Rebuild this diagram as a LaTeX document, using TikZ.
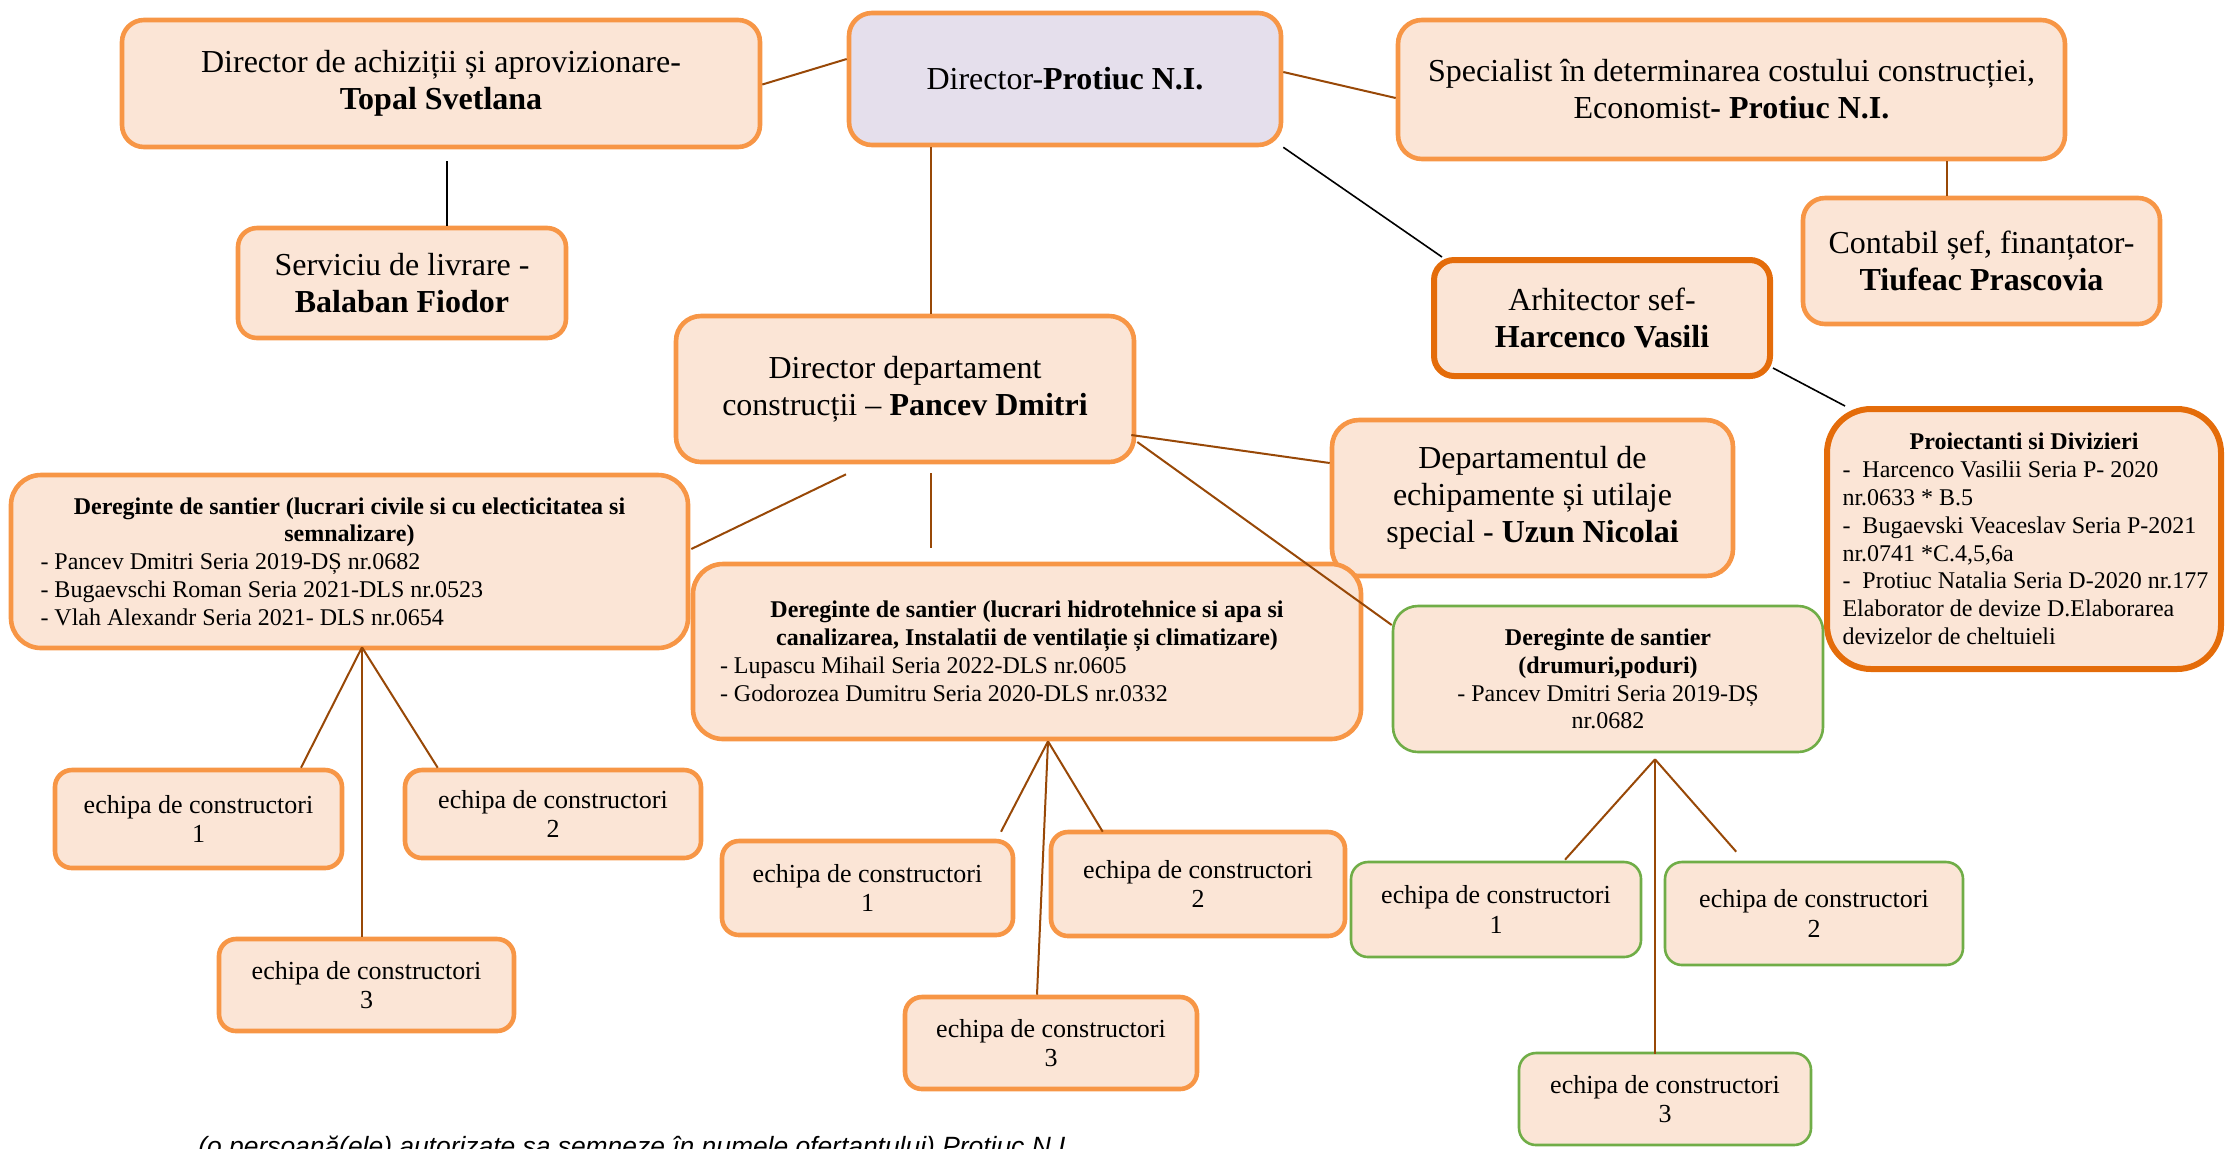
\documentclass[tikz,border=0pt]{standalone}
\usepackage{fontspec}
\setmainfont{Liberation Serif}
\newfontfamily\footfont{Liberation Sans}
\usetikzlibrary{calc}
\setlength{\parindent}{0pt}
\definecolor{boxfill}{HTML}{FBE5D6}
\definecolor{boxline}{HTML}{F79646}
\definecolor{darkline}{HTML}{E46C0A}
\definecolor{greenline}{HTML}{70AD47}
\definecolor{dirfill}{HTML}{E5DFEC}
\definecolor{connbrown}{HTML}{984807}
\newcommand\bigtxt{\fontsize{16}{18.5}\selectfont}
\newcommand\smalltxt{\fontsize{12}{13.9}\selectfont}
\newcommand\teamtxt{\fontsize{13}{14.6}\selectfont}
\begin{document}
\begin{tikzpicture}[x=0.5pt,y=-0.5pt,
  box/.style={draw=boxline, fill=boxfill, line width=2.3pt, inner sep=0pt, align=center, font=\bigtxt},
  darkbox/.style={box, draw=darkline, line width=3pt},
  greenbox/.style={box, draw=greenline, line width=1.3pt},
  smallbox/.style={box, font=\smalltxt},
  team/.style={box, font=\teamtxt, rounded corners=8.5pt},
  gteam/.style={greenbox, font=\teamtxt, rounded corners=8.5pt},
  brn/.style={draw=connbrown, line width=1pt},
  blk/.style={draw=black, line width=0.8pt}]
\useasboundingbox (0,0) rectangle (2225,1148);

% top row
\node[box, minimum width=319pt, minimum height=63.5pt, rounded corners=11pt] (ach) at (441,83.5)
  {Director de achiziții și aprovizionare-\\\textbf{Topal Svetlana}};
\node[box, fill=dirfill, minimum width=216pt, minimum height=66pt, rounded corners=11.5pt] (dir) at (1065,79)
  {Director-\textbf{Protiuc N.I.}};
\node[box, minimum width=333.5pt, minimum height=69.5pt, rounded corners=12pt] (spec) at (1731.5,89.5)
  {Specialist în determinarea costului construcției,\\Economist\textbf{- Protiuc N.I.}};
\node[box, minimum width=178.5pt, minimum height=63pt, rounded corners=11pt] (cont) at (1981.5,261)
  {Contabil șef, finanțator-\\\textbf{Tiufeac Prascovia}};
\node[darkbox, minimum width=168pt, minimum height=58pt, rounded corners=10pt] (arh) at (1602,318)
  {Arhitector sef-\\\textbf{Harcenco Vasili}};
\node[box, minimum width=164pt, minimum height=55pt, rounded corners=9.5pt] (serv) at (402,283)
  {Serviciu de livrare -\\\textbf{Balaban Fiodor}};
\node[box, minimum width=229pt, minimum height=73pt, rounded corners=12.5pt] (dd) at (905,389)
  {Director departament\\construcții – \textbf{Pancev Dmitri}};
\node[box, minimum width=200.5pt, minimum height=78pt, rounded corners=13.5pt] (dep) at (1532.5,498)
  {Departamentul de\\echipamente și utilaje\\special - \textbf{Uzun Nicolai}};

\node[darkbox, font=\smalltxt, minimum width=197pt, minimum height=130pt, rounded corners=22pt, text width=181.5pt, align=none] (proi) at (2024,539)
  {\centering\textbf{Proiectanti si Divizieri}\par\raggedright
   \mbox{- \ Harcenco Vasilii Seria P- 2020}\\
   \mbox{nr.0633 * B.5}\\
   \mbox{- \ Bugaevski Veaceslav Seria P-2021}\\
   \mbox{nr.0741 *C.4,5,6a}\\
   \mbox{- \ Protiuc Natalia Seria D-2020 nr.177}\\
   \mbox{Elaborator de devize D.Elaborarea}\\
   \mbox{devizelor de cheltuieli}\par};

% site managers
\node[smallbox, minimum width=338.5pt, minimum height=86.5pt, rounded corners=15pt, text width=309pt, align=none] (dl) at (349.5,561.5)
  {\centering\textbf{Dereginte de santier (lucrari civile si cu electicitatea si}\\
   \textbf{semnalizare)}\par\raggedright
   \mbox{- Pancev Dmitri Seria 2019-DȘ nr.0682}\\
   \mbox{- Bugaevschi Roman Seria 2021-DLS nr.0523}\\
   \mbox{- Vlah Alexandr Seria 2021- DLS nr.0654}\par};
\node[smallbox, minimum width=334pt, minimum height=87.5pt, rounded corners=15pt, text width=307pt, align=none] (dm) at (1027,651.5)
  {\centering\textbf{Dereginte de santier (lucrari hidrotehnice si apa si}\\
   \textbf{canalizarea, Instalatii de ventilație și climatizare)}\par\raggedright
   \mbox{- Lupascu Mihail Seria 2022-DLS nr.0605}\\
   \mbox{- Godorozea Dumitru Seria 2020-DLS nr.0332}\par};
\node[greenbox, font=\smalltxt, minimum width=215pt, minimum height=73pt, rounded corners=12.5pt] (dr) at (1608,679)
  {\textbf{Dereginte de santier}\\\textbf{(drumuri,poduri)}\\- Pancev Dmitri Seria 2019-DȘ\\nr.0682};

% teams
\node[team, minimum width=143.5pt, minimum height=49pt] (l1) at (198.5,819) {echipa de constructori\\1};
\node[team, minimum width=148pt, minimum height=44pt] (l2) at (553,814) {echipa de constructori\\2};
\node[team, minimum width=147.5pt, minimum height=46pt] (l3) at (366.5,985) {echipa de constructori\\3};
\node[team, minimum width=145.5pt, minimum height=47pt] (m1) at (867.5,888) {echipa de constructori\\1};
\node[team, minimum width=147pt, minimum height=52pt] (m2) at (1198,884) {echipa de constructori\\2};
\node[team, minimum width=146pt, minimum height=46pt] (m3) at (1051,1043) {echipa de constructori\\3};
\node[gteam, minimum width=145pt, minimum height=47.5pt] (r1) at (1496,909.5) {echipa de constructori\\1};
\node[gteam, minimum width=149pt, minimum height=51.5pt] (r2) at (1814,913.5) {echipa de constructori\\2};
\node[gteam, minimum width=146pt, minimum height=46pt] (r3) at (1665,1099) {echipa de constructori\\3};

% footer (cut by the lower edge, as in the original)
\node[anchor=base west, inner sep=0pt, font=\footfont\itshape\fontsize{13.2}{15}\selectfont] (foot) at (198,1155)
  {(o persoană(ele) autorizate sa semneze în numele ofertantului) Protiuc N.I.};

% connectors
\draw[brn] ($(ach.east)+(0,1)$) -- ($(dir.west)+(0,-20)$);
\draw[brn] ($(dir.east)+(0,-7)$) -- ($(spec.west)+(0,8.5)$);
\draw[blk] (dir.south east) -- ($(arh.north west)+(11,0)$);
\draw[blk] ($(ach.south)+(6,12)$) -- ($(serv.north)+(45,0)$);
\draw[brn] ($(spec.south)+(215.5,0)$) -- ($(cont.north)+(-34.5,0)$);
\draw[blk] ($(arh.east)+(0,50)$) -- ($(proi.north west)+(21,0)$);
\draw[brn] ($(dir.south)+(-134,0)$) -- ($(dd.north)+(26,0)$);
\draw[brn] ($(dd.south)+(-59,10)$) -- ($(dl.east)+(1,-12.5)$);
\draw[brn] ($(dd.south)+(26,9)$) -- ($(dm.north)+(-96,-14)$);
\draw[brn] ($(dd.east)+(-5,46)$) -- ($(dep.west)+(0,-35)$);
\draw[brn] ($(dd.east)+(1,53)$) -- ($(dr.west)+(0,-54)$);

\coordinate (la) at ($(dl.south)+(12.5,-3)$);
\draw[brn] (la) -- ($(l1.north)+(102.5,0)$);
\draw[brn] (la) -- ($(l2.north west)+(35,0)$);
\draw[brn] (la) -- ($(l3.north)+(-4.5,0)$);
\coordinate (ma) at ($(dm.south)+(21,0)$);
\draw[brn] (ma) -- ($(m1.north)+(133.5,-7)$);
\draw[brn] (ma) -- ($(m2.north west)+(54,2)$);
\draw[brn] (ma) -- ($(m3.north)+(-14,0)$);
\coordinate (ra) at ($(dr.south)+(47,6)$);
\draw[brn] (ra) -- ($(r1.north)+(69,-1)$);
\draw[brn] (ra) -- ($(r2.north west)+(72.5,-9)$);
\draw[brn] (ra) -- ($(r3.north)+(-10,2)$);
\end{tikzpicture}
\end{document}
